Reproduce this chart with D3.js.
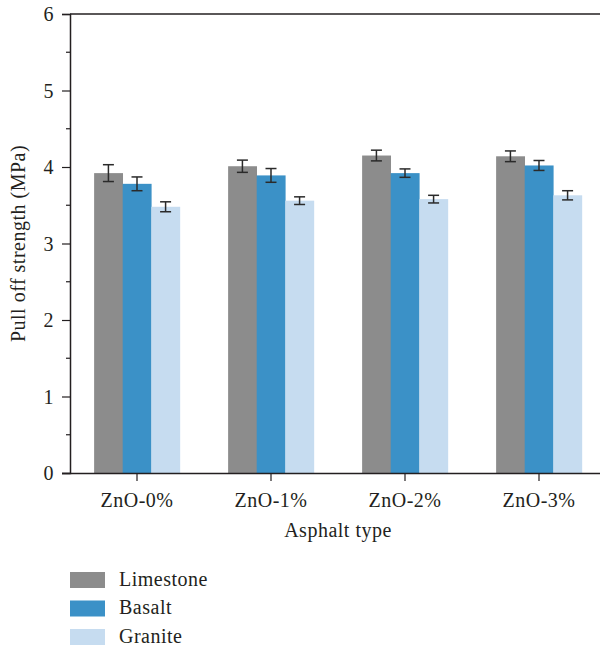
<!DOCTYPE html>
<html>
<head>
<meta charset="utf-8">
<script src="https://cdn.jsdelivr.net/npm/d3@7"></script>
<style>
  html, body { margin: 0; padding: 0; background: #fff; }
  svg text { font-family: "Liberation Serif", "DejaVu Serif", serif; fill: #231f20; letter-spacing: 0.5px; }
</style>
</head>
<body>
<svg id="chart" width="600" height="650"></svg>
<script>
// Pull-off strength by asphalt type and aggregate
const categories = ["ZnO-0%", "ZnO-1%", "ZnO-2%", "ZnO-3%"];
const seriesNames = ["Limestone", "Basalt", "Granite"];
const limestone = [3.92, 4.01, 4.15, 4.14];
const basalt    = [3.78, 3.89, 3.92, 4.02];
const granite   = [3.48, 3.56, 3.58, 3.63];
const limestoneErr = [0.11, 0.08, 0.07, 0.07];
const basaltErr    = [0.09, 0.09, 0.055, 0.065];
const graniteErr   = [0.065, 0.05, 0.05, 0.06];
const yTicks = [0, 1, 2, 3, 4, 5, 6];
const yMinorTicks = [0.5, 1.5, 2.5, 3.5, 4.5, 5.5];
const colors = ["#8c8c8c", "#3b91c7", "#c6dcf0"];

const values = [limestone, basalt, granite];
const errors = [limestoneErr, basaltErr, graniteErr];

const svg = d3.select("#chart");
const plotLeft = 70, plotRight = 606, plotTop = 14, plotBottom = 473;
const ink = "#231f20";
const fontSize = 20;

const x = d3.scaleBand().domain(categories).range([plotLeft, plotRight])
  .paddingInner(0.36).paddingOuter(0.18);
const xs = d3.scaleBand().domain(seriesNames).range([0, x.bandwidth()]);
const y = d3.scaleLinear().domain([0, 6]).range([plotBottom, plotTop]);

// bars
const groups = svg.append("g").selectAll("g")
  .data(categories).join("g")
  .attr("transform", d => `translate(${x(d)},0)`);

seriesNames.forEach((s, si) => {
  groups.append("rect")
    .attr("x", xs(s))
    .attr("width", xs.bandwidth() + 0.3)
    .attr("y", (d, i) => y(values[si][i]))
    .attr("height", (d, i) => y(0) - y(values[si][i]))
    .attr("fill", colors[si]);
});

// error bars
seriesNames.forEach((s, si) => {
  const g = groups.append("g")
    .attr("stroke", "#2a2a2a").attr("stroke-width", 1.5);
  const cx = xs(s) + xs.bandwidth() / 2;
  g.append("line")
    .attr("x1", cx).attr("x2", cx)
    .attr("y1", (d, i) => y(values[si][i] + errors[si][i]))
    .attr("y2", (d, i) => y(values[si][i] - errors[si][i]));
  [1, -1].forEach(sign => {
    g.append("line")
      .attr("x1", cx - 5.5).attr("x2", cx + 5.5)
      .attr("y1", (d, i) => y(values[si][i] + sign * errors[si][i]))
      .attr("y2", (d, i) => y(values[si][i] + sign * errors[si][i]));
  });
});

// top frame line
svg.append("line")
  .attr("x1", plotLeft).attr("x2", 600).attr("y1", plotTop).attr("y2", plotTop)
  .attr("stroke", ink).attr("stroke-width", 1.5);

// y axis
const yAxis = svg.append("g")
  .attr("transform", `translate(${plotLeft},0)`)
  .call(d3.axisLeft(y).tickValues(yTicks).tickFormat(d3.format("d")).tickSize(8).tickPadding(8));
yAxis.append("g").selectAll("line").data(yMinorTicks).join("line")
  .attr("x1", -4).attr("x2", 0)
  .attr("y1", d => y(d)).attr("y2", d => y(d))
  .attr("stroke", ink).attr("stroke-width", 1.2);

// x axis
const xAxis = svg.append("g")
  .attr("transform", `translate(0,${plotBottom})`)
  .call(d3.axisBottom(x).tickSize(8).tickPadding(12));
xAxis.select(".domain").attr("d", `M${plotLeft - 8},0.5H600`);

[yAxis, xAxis].forEach(a => {
  a.select(".domain").attr("stroke", ink).attr("stroke-width", 1.5);
  a.selectAll(".tick line").attr("stroke", ink).attr("stroke-width", 1.2);
  a.selectAll(".tick text").attr("font-size", fontSize).attr("fill", ink)
    .attr("font-family", "Liberation Serif, serif");
});
yAxis.selectAll(".tick text").attr("dy", "0.33em");

// axis titles
svg.append("text")
  .attr("x", (plotLeft + plotRight) / 2).attr("y", 537)
  .attr("text-anchor", "middle").attr("font-size", fontSize)
  .text("Asphalt type");
svg.append("text")
  .attr("transform", `translate(25,${(plotTop + plotBottom) / 2}) rotate(-90)`)
  .attr("text-anchor", "middle").attr("font-size", fontSize)
  .text("Pull off strength (MPa)");

// legend
const legend = svg.append("g").selectAll("g")
  .data(seriesNames).join("g")
  .attr("transform", (d, i) => `translate(70,${572 + i * 28.5})`);
legend.append("rect").attr("width", 35).attr("height", 16)
  .attr("fill", (d, i) => colors[i]);
legend.append("text").attr("x", 49).attr("y", 13.5)
  .attr("font-size", fontSize).text(d => d);
</script>
</body>
</html>
